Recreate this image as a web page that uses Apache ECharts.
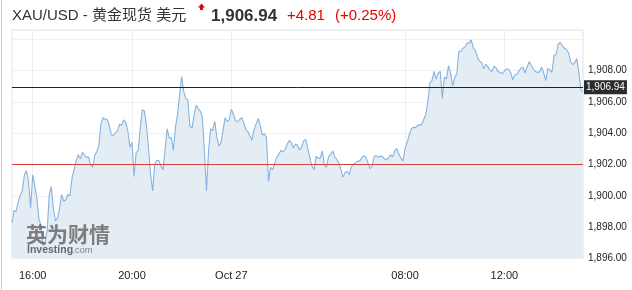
<!DOCTYPE html>
<html><head><meta charset="utf-8">
<script src="https://cdn.jsdelivr.net/npm/echarts@6/dist/echarts.min.js"></script>
<style>html,body{margin:0;padding:0;background:#fff}#c{width:632px;height:290px}</style>
</head><body><div id="c"></div>
<script>
const titleText = 'XAU/USD - 黄金现货 美元';
const lastPrice = 1906.94;
const changeText = '+4.81';
const changePctText = '(+0.25%)';
const refLevel = 1902.00;
const yTickValues = [1896, 1898, 1900, 1902, 1904, 1906, 1908];
const xTickLabels = {'16:00': '16:00', '20:00': '20:00', '00:00': 'Oct 27', '08:00': '08:00', '12:00': '12:00'};
const sessionA = {day: '10-26', start: '15:10', end: '04:55'};
const sessionB = {day: '10-27', start: '06:00', end: '15:10'};

// 5-minute prices
const pricesEvening = [1898.27,1899.07,1899.01,1899.62,1900.05,1900.35,1901.35,1901.61,1900.92,1899.23,
1901.35,1900.66,1899.88,1898.53,1898.10,1896.84,1897.06,1897.77,1900.05,1900.59,
1899.18,1898.40,1898.60,1899.18,1900.09,1899.66,1899.75,1900.09,1900.01,1901.13,
1901.68,1902.22,1902.63,1902.37,1902.78,1902.61,1902.46,1902.48,1902.00,1901.83,
1902.59,1902.82,1903.26,1904.60,1904.99,1904.90,1904.90,1904.49,1903.91,1903.84,
1904.02,1904.17,1904.58,1904.51,1904.86,1904.69,1904.15];
const pricesNight = [1903.11,1903.41,1901.24,1902.76,1902.89,1904.38,1905.51,1905.42,1904.49,1903.04,
1901.35,1900.31,1902.04,1902.28,1902.26,1901.89,1901.68,1902.98,1904.28,1903.69,
1903.73,1902.91,1904.38,1905.19,1906.44,1907.63,1906.66,1906.23,1906.12,1904.49,
1904.32,1905.14,1905.79,1905.58,1905.42,1905.03,1902.87,1900.31,1902.87,1904.28,
1904.17,1904.77,1903.78,1903.19,1903.39,1904.17,1904.99,1904.75,1904.86,1905.53,
1905.25,1904.82,1904.73,1904.88,1905.00];
const pricesEarly = [1904.69,1904.23,1904.12,1903.82,1903.56,1904.23,1904.60,1904.95,1904.49,1903.89,
1903.97,1903.73,1900.92,1901.83,1901.68,1902.11,1902.46,1902.67,1902.91,1902.82,
1902.98,1903.30,1903.54,1903.41,1903.08,1903.30,1903.24,1902.93,1903.13,1903.52,
1903.60,1903.02,1902.43,1901.89,1901.68,1902.54,1902.39,1902.43,1902.87,1901.96,
1901.83,1902.50,1902.65,1902.87,1902.50,1902.33,1902.11,1901.68,1901.20,1901.50,
1901.57,1901.35,1901.83,1902.04];
const pricesMorning = [1902.09,1902.22,1902.22,1902.43,1902.56,1902.48,1902.13,1901.74,1901.89,1902.48,
1902.59,1902.48,1902.54,1902.52,1902.37,1902.30,1902.43,1902.63,1902.50,1902.87,
1903.04,1902.67,1902.41,1902.22,1903.04,1903.41,1903.89,1904.28,1904.38,1904.36,
1904.49,1904.54,1904.54,1904.88,1905.21,1906.01,1907.20,1907.37,1907.96,1907.46,
1907.85,1907.96,1906.23,1907.59,1907.48,1908.33,1907.85,1907.03,1907.57,1907.81,
1909.24,1909.24,1909.43,1909.54,1909.76,1909.76];
const pricesMidday = [1909.97,1909.45,1909.30,1908.85,1908.61,1908.52,1908.13,1908.41,1908.24,1908.05,
1907.94,1908.28,1908.18,1907.94,1907.89,1907.81,1907.98,1908.11,1908.11,1907.89,
1907.42,1907.72,1907.76,1908.00,1908.15,1908.22,1907.85,1908.24,1908.57,1908.33,
1908.11,1907.94,1907.89,1907.94,1908.24,1907.85,1907.37,1908.15,1908.05,1907.89,
1908.98,1909.04,1909.69,1909.80,1909.61,1909.43,1909.35,1909.15,1908.57,1908.39,
1908.52,1908.78,1907.89,1906.77,1906.64];

const prices = [].concat(pricesEvening, pricesNight, pricesEarly, pricesMorning, pricesMidday);

function sessionTimes(s) {
  const toM = t => { const p = t.split(':').map(Number); return p[0] * 60 + p[1]; };
  let a = toM(s.start), b = toM(s.end);
  if (b < a) b += 1440;
  const out = [];
  for (let m = a; m <= b; m += 5) {
    const mm = m % 1440;
    const day = m >= 1440 ? '10-27' : s.day;
    out.push(day + ' ' + String(Math.floor(mm / 60)).padStart(2, '0') + ':' + String(mm % 60).padStart(2, '0'));
  }
  return out;
}
const categories = sessionTimes(sessionA).concat(sessionTimes(sessionB));
const timePart = c => c.slice(6);
const isTick = (i, c) => Object.prototype.hasOwnProperty.call(xTickLabels, timePart(c));
const fmtPrice = v => v.toLocaleString('en-US', {minimumFractionDigits: 2, maximumFractionDigits: 2});

const chart = echarts.init(document.getElementById('c'), null, {renderer: 'canvas'});
const baseFont = '"Liberation Sans", Arial, "Noto Sans CJK SC", sans-serif';
chart.setOption({
  animation: false,
  backgroundColor: '#fff',
  grid: {left: 12, right: 49, top: 30, bottom: 31.5, show: true, borderColor: '#dfe4ea', borderWidth: 1, backgroundColor: 'transparent'},
  xAxis: {
    type: 'category', data: categories, boundaryGap: false,
    axisLine: {show: false}, axisTick: {show: false},
    axisLabel: {interval: isTick, formatter: v => xTickLabels[timePart(v)] || '', color: '#222', fontSize: 11, fontFamily: baseFont, margin: 12},
    splitLine: {show: true, interval: isTick, lineStyle: {color: '#edf0f3', width: 1}}
  },
  yAxis: {
    type: 'value', position: 'right', min: 1896, max: 1910.6, interval: 2,
    axisLine: {show: false}, axisTick: {show: false},
    axisLabel: {formatter: v => yTickValues.indexOf(v) >= 0 ? fmtPrice(v) : '', color: '#222', fontSize: 10, fontFamily: baseFont, margin: 5},
    splitLine: {show: true, lineStyle: {color: '#edf0f3', width: 1}}
  },
  series: [{
    type: 'line', data: prices, showSymbol: false, symbol: 'none', silent: true, z: 2,
    lineStyle: {color: '#86b3df', width: 1.1},
    areaStyle: {color: '#e5edf4', opacity: 1},
    markLine: {
      silent: true, symbol: 'none', animation: false,
      data: [
        {yAxis: refLevel, lineStyle: {color: '#d9403a', width: 1, type: 'solid'}, label: {show: false}},
        {yAxis: lastPrice, lineStyle: {color: '#222', width: 1, type: 'solid'},
         label: {show: true, position: 'end', distance: 1, formatter: fmtPrice(lastPrice), color: '#fff', backgroundColor: '#2b2b2b', padding: [2, 2, 2, 2], fontSize: 10, fontFamily: baseFont}}
      ]
    }
  }],
  graphic: [
    {type: 'line', z: 100, shape: {x1: 1.5, y1: 0, x2: 1.5, y2: 290}, style: {stroke: '#cfcfcf', lineWidth: 1}, silent: true},
    {type: 'text', z: 100, x: 12, y: 16, style: {text: titleText, font: '15px ' + baseFont, fill: '#333', verticalAlign: 'middle'}, silent: true},
    {type: 'polygon', z: 100, shape: {points: [[198, 7.5], [201.5, 3.5], [205, 7.5], [203, 7.5], [203, 10], [200, 10], [200, 7.5]]}, style: {fill: '#e60000'}, silent: true},
    {type: 'text', z: 100, x: 211, y: 16, style: {text: fmtPrice(lastPrice), font: 'bold 17px ' + baseFont, fill: '#333', verticalAlign: 'middle'}, silent: true},
    {type: 'text', z: 100, x: 287, y: 16, style: {text: changeText, font: '15px ' + baseFont, fill: '#e60000', verticalAlign: 'middle'}, silent: true},
    {type: 'text', z: 100, x: 335, y: 16, style: {text: changePctText, font: '15px ' + baseFont, fill: '#e60000', verticalAlign: 'middle'}, silent: true},
    {type: 'text', z: 100, x: 26, y: 234, style: {text: '英为财情', font: 'bold 21px "Noto Sans CJK SC", sans-serif', fill: 'rgba(105,105,105,0.85)', verticalAlign: 'middle'}, silent: true},
    {type: 'text', z: 100, x: 27, y: 250, style: {text: 'Investing', font: 'bold 10.5px ' + baseFont, fill: 'rgba(90,90,90,0.9)', verticalAlign: 'middle'}, silent: true},
    {type: 'text', z: 100, x: 72, y: 250.5, style: {text: '.com', font: '9.5px ' + baseFont, fill: 'rgba(120,120,120,0.9)', verticalAlign: 'middle'}, silent: true}
  ]
});
</script></body></html>
